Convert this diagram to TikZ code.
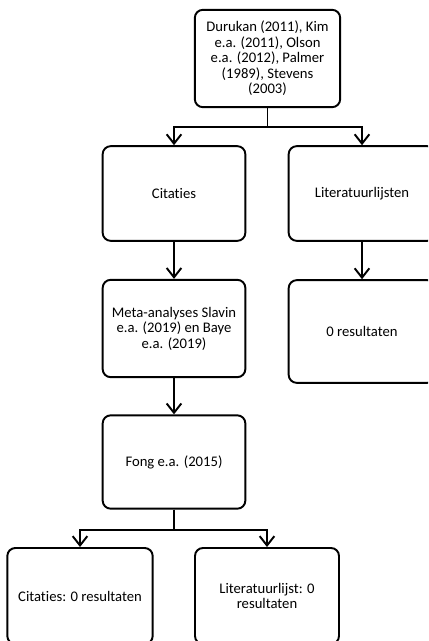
\documentclass[tikz,border=0pt]{standalone}
\usepackage{fontspec}
\setmainfont[Ligatures=NoCommon]{Carlito}
\usetikzlibrary{positioning}
\usetikzlibrary{arrows.meta}

\begin{document}
\begin{tikzpicture}[x=0.75pt,y=-0.75pt, >={Straight Barb[length=7pt,width=11pt]}]
    \tikzset{stap/.style={draw, line width=1.45pt, rounded corners=6pt, align=center,
        font=\fontsize{11}{11.6}\selectfont, inner sep=2pt}}
    \tikzset{pijl/.style={->, line width=1.45pt}}

    \clip (0,0) rectangle (428,641);

    % first row
    \node[stap, minimum width=109pt, minimum height=73pt] (bron) at (267.5,58.5)
        {Durukan (2011), Kim\\e.a. (2011), Olson\\e.a. (2012), Palmer\\(1989), Stevens\\(2003)};

    % second row
    \node[stap, minimum width=107pt, minimum height=71pt] (citaties) at (174,193.5) {Citaties};
    \node[stap, minimum width=110pt, minimum height=71pt] (lijsten) at (362,193.5) {Literatuurlijsten};

    % third row
    \node[stap, minimum width=107pt, minimum height=73pt] (meta) at (174,328.5)
        {Meta-analyses Slavin\\e.a. (2019) en Baye\\e.a. (2019)};
    \node[stap, minimum width=110pt, minimum height=77pt] (nul) at (362,331.5) {0 resultaten};

    % fourth row
    \node[stap, minimum width=107pt, minimum height=70pt] (fong) at (174,462) {Fong e.a. (2015)};

    % last row
    \node[stap, minimum width=109pt, minimum height=72pt] (fongcit) at (80,596) {Citaties: 0 resultaten};
    \node[stap, minimum width=108pt, minimum height=72pt] (fonglijst) at (267,596) {Literatuurlijst: 0\\resultaten};

    % connectors
    \draw[pijl] (bron.south) -- ++(0,19) -| (citaties.north);
    \draw[pijl] (bron.south) -- ++(0,19) -| (lijsten.north);
    \draw[pijl] (citaties) -- (meta);
    \draw[pijl] (lijsten) -- (nul);
    \draw[pijl] (meta) -- (fong);
    \draw[pijl] (fong.south) -- ++(0,20) -| (fongcit.north);
    \draw[pijl] (fong.south) -- ++(0,20) -| (fonglijst.north);
\end{tikzpicture}
\end{document}
